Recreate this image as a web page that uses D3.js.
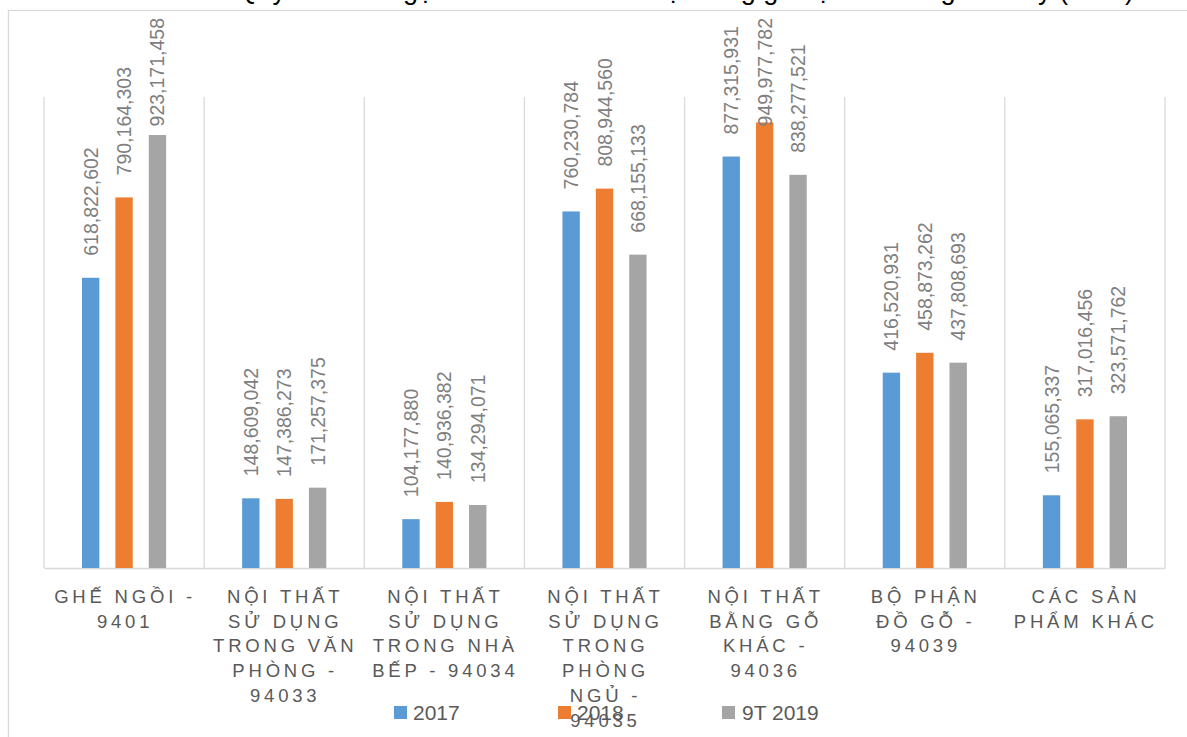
<!DOCTYPE html>
<html>
<head>
<meta charset="utf-8">
<script src="https://cdn.jsdelivr.net/npm/d3@7"></script>
<style>
  html, body { margin: 0; padding: 0; background: #ffffff; }
  svg { display: block; font-family: "Liberation Sans", Arial, sans-serif; }
</style>
</head>
<body>
<svg id="chart" width="1187" height="737"></svg>
<script>
// Category labels, one entry per wrapped line
const categories = [
  ["GHẾ NGỒI -", "9401"],
  ["NỘI THẤT", "SỬ DỤNG", "TRONG VĂN", "PHÒNG -", "94033"],
  ["NỘI THẤT", "SỬ DỤNG", "TRONG NHÀ", "BẾP - 94034"],
  ["NỘI THẤT", "SỬ DỤNG", "TRONG", "PHÒNG", "NGỦ -", "94035"],
  ["NỘI THẤT", "BẰNG GỖ", "KHÁC -", "94036"],
  ["BỘ PHẬN", "ĐỒ GỖ -", "94039"],
  ["CÁC SẢN", "PHẨM KHÁC"]
];
const seriesNames = ["2017", "2018", "9T 2019"];
const values2017 = [618822602, 148609042, 104177880, 760230784, 877315931, 416520931, 155065337];
const values2018 = [790164303, 147386273, 140936382, 808944560, 949977782, 458873262, 317016456];
const values9T2019 = [923171458, 171257375, 134294071, 668155133, 838277521, 437808693, 323571762];
const seriesColors = ["#5b9bd5", "#ed7d31", "#a5a5a5"];
const titleText = "Quy mô kim ngạch xuất khẩu các mặt hàng gỗ nội thất sang Hoa Kỳ (USD)";

const seriesValues = [values2017, values2018, values9T2019];
const svg = d3.select("#chart");

// Chart title sits above the frame; only its descenders fall inside the view
svg.append("text")
  .attr("x", 1134).attr("y", -1.5)
  .attr("text-anchor", "end")
  .attr("font-size", 27)
  .attr("fill", "#000000")
  .text(titleText);

// Chart area frame
svg.append("rect")
  .attr("x", 8.5).attr("y", 10.5)
  .attr("width", 1300).attr("height", 900)
  .attr("fill", "none")
  .attr("stroke", "#d9d9d9")
  .attr("stroke-width", 1.3);

const plot = { left: 44, right: 1165, top: 97, bottom: 568 };

const x0 = d3.scaleBand()
  .domain(d3.range(categories.length))
  .range([plot.left, plot.right])
  .padding(0);

const x1 = d3.scaleBand()
  .domain(d3.range(seriesNames.length))
  .range([38, x0.bandwidth() - 38])
  .paddingInner(0.48)
  .paddingOuter(0);

const y = d3.scaleLinear()
  .domain([0, 1000000000])
  .range([plot.bottom, 99]);

// Category separators
const sepX = d3.range(categories.length + 1).map(i => i < categories.length ? x0(i) : plot.right);
svg.append("g").selectAll("line")
  .data(sepX)
  .join("line")
  .attr("x1", d => d).attr("x2", d => d)
  .attr("y1", plot.top).attr("y2", plot.bottom)
  .attr("stroke", "#d9d9d9")
  .attr("stroke-width", 1.3);

// Category axis line
const xAxis = svg.append("g")
  .attr("transform", `translate(0,${plot.bottom})`)
  .call(d3.axisBottom(x0).tickSize(0).tickFormat(""));
xAxis.select(".domain").attr("stroke", "#d9d9d9").attr("stroke-width", 1.5);

// Bars
const groups = svg.append("g").selectAll("g")
  .data(categories.map((c, i) => i))
  .join("g")
  .attr("transform", i => `translate(${x0(i)},0)`);

groups.selectAll("rect")
  .data(i => seriesValues.map((vals, s) => ({ s, v: vals[i] })))
  .join("rect")
  .attr("x", d => x1(d.s))
  .attr("width", x1.bandwidth())
  .attr("y", d => y(d.v))
  .attr("height", d => y(0) - y(d.v))
  .attr("fill", d => seriesColors[d.s]);

// Value labels, rotated, kept inside the chart area
const fmt = d3.format(",");
groups.selectAll("text.value")
  .data(i => seriesValues.map((vals, s) => ({ s, v: vals[i] })))
  .join("text")
  .attr("class", "value")
  .attr("font-size", 19.5)
  .attr("fill", "#7f7f7f")
  .attr("text-anchor", "start")
  .attr("dominant-baseline", "central")
  .text(d => fmt(d.v))
  .each(function (d) {
    const len = this.getComputedTextLength();
    const start = Math.max(y(d.v) - 22, 18 + len);
    d3.select(this).attr("transform",
      `translate(${x1(d.s) + x1.bandwidth() / 2},${start}) rotate(-90)`);
  });

// Category labels
const catLabels = svg.append("g").selectAll("text")
  .data(categories)
  .join("text")
  .attr("font-size", 18.5)
  .attr("fill", "#595959")
  .attr("letter-spacing", 3.8)
  .attr("text-anchor", "middle");

catLabels.each(function (lines, i) {
  d3.select(this).selectAll("tspan")
    .data(lines)
    .join("tspan")
    .attr("x", x0(i) + x0.bandwidth() / 2 + 1)
    .attr("y", (d, k) => 603 + k * 24.7)
    .text(d => d);
});

// Legend
const legend = svg.append("g").selectAll("g")
  .data(seriesNames)
  .join("g")
  .attr("transform", (d, i) => `translate(${394 + i * 164},706)`);

legend.append("rect")
  .attr("width", 13).attr("height", 13)
  .attr("fill", (d, i) => seriesColors[i]);

legend.append("text")
  .attr("x", (d, i) => i === 2 ? 20 : 19)
  .attr("y", 14)
  .attr("font-size", 21)
  .attr("fill", "#595959")
  .text(d => d);
</script>
</body>
</html>
